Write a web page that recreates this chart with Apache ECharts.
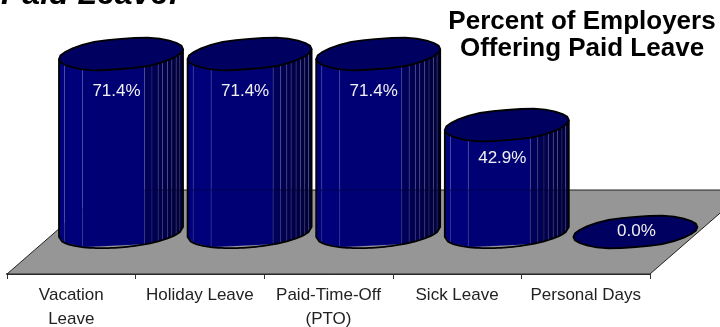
<!DOCTYPE html>
<html>
<head>
<meta charset="utf-8">
<style>html,body{margin:0;padding:0;background:#fff}#c{width:720px;height:327px}</style>
<script src="https://cdn.jsdelivr.net/npm/echarts@6/dist/echarts.min.js"></script>
</head>
<body>
<div id="c"></div>
<script>
const categories = ['Vacation\nLeave', 'Holiday Leave', 'Paid-Time-Off\n(PTO)', 'Sick Leave', 'Personal Days'];
const percentOffering = [71.4, 71.4, 71.4, 42.9, 0.0];
const chartTitle = 'Percent of Employers\nOffering Paid Leave';
const clippedHeading = 'Paid Leave:';

const chart = echarts.init(document.getElementById('c'), null, {renderer: 'canvas'});

// geometry of the pseudo-3D drawing
const DEPTH_X = 49.7, RX = 62, RY = 15.4, SHEAR = 0.08;
const FACET_X = [-1, -0.91, -0.62, 0.38, 0.5, 0.6, 0.67, 0.75, 0.82, 0.89, 0.95, 1];

function ellipsePoints(cx, cy) {
  const pts = [], n = 28;
  for (let i = 0; i < n; i++) {
    const t = i / n * Math.PI * 2;
    const x = RX * Math.cos(t);
    const wob = 1 + 0.025 * Math.cos(6 * t);
    const y = RY * wob * Math.sin(t) - SHEAR * x;
    pts.push([cx + x, cy + y]);
  }
  return pts;
}
function frontY(cx, cy, f) {
  const x = RX * f;
  return cy + RY * Math.sqrt(Math.max(0, 1 - f * f)) - SHEAR * x;
}
const STROKE = '#000';

function renderCyl(params, api) {
  const i = api.value(0), v = api.value(1);
  const top = api.coord([i, v]), base = api.coord([i, 0]);
  const cx = top[0] + DEPTH_X, cyT = top[1], cyB = base[1];
  const children = [];
  if (v > 0) {
    for (let k = 0; k < FACET_X.length - 1; k++) {
      const a = FACET_X[k], b = FACET_X[k + 1];
      const g = Math.round(a < 0.3 ? 125 - (a + 1) * 22 : 92 - (a - 0.3) * 55);
      const fill = 'rgb(0,0,' + g + ')';
      children.push({
        type: 'polygon',
        shape: {points: [
          [cx + RX * a, frontY(cx, cyT, a)], [cx + RX * b, frontY(cx, cyT, b)],
          [cx + RX * b, frontY(cx, cyB, b)], [cx + RX * a, frontY(cx, cyB, a)]
        ]},
        style: {fill: fill, stroke: k === 0 ? fill : 'rgba(120,120,190,0.3)', lineWidth: k === 0 ? 0 : 0.6}
      });
    }
    const outline = [];
    for (let f = -1; f <= 1.0001; f += 0.05) outline.push([cx + RX * f, frontY(cx, cyB, Math.min(f, 1))]);
    outline.unshift([cx - RX, frontY(cx, cyT, -1)]);
    outline.push([cx + RX, frontY(cx, cyT, 1)]);
    children.push({type: 'polyline', shape: {points: outline}, style: {fill: 'none', stroke: STROKE, lineWidth: 1.8}});
    // back edge of the floor, faintly visible through the body
    const by = 190;
    const x0 = Math.max(cx - RX, 145);
    children.push({type: 'line', shape: {x1: x0, y1: by, x2: cx + RX, y2: by}, style: {stroke: 'rgba(0,0,0,0.3)', lineWidth: 1}});
  }
  children.push({
    type: 'polygon',
    shape: {points: ellipsePoints(cx, cyT)},
    style: {fill: '#000060', stroke: STROKE, lineWidth: 1.8}
  });
  const dx = v > 0 ? -4.5 : 1;
  const dy = v > 60 ? 37.5 : (v > 0 ? 33 : -1);
  children.push({
    type: 'text',
    style: {
      text: v.toFixed(1) + '%', x: cx + dx, y: cyT + dy, align: 'center', verticalAlign: 'middle',
      fill: '#f0f0f0', font: '17px "Liberation Sans", Arial, sans-serif'
    }
  });
  return {type: 'group', children};
}

function renderFloor(params, api) {
  const w = api.size([1, 0])[0];
  const p0 = api.coord([0, -16.85]);
  const L = p0[0] - w / 2, R = L + 5 * w, B = p0[1], T = 190;
  const run = (B - T) * 1.15;
  return {
    type: 'group',
    children: [{
      type: 'polygon',
      shape: {points: [[L, B], [R, B], [R + run, T], [L + run, T]]},
      style: {fill: '#969696', stroke: '#222', lineWidth: 1}
    }]
  };
}

chart.setOption({
  animation: false,
  grid: {left: 7, right: 70, top: 7.6, bottom: 53, outerBoundsMode: 'none'},
  title: [{
    text: chartTitle, left: 577, top: 3, textAlign: 'center',
    textStyle: {fontFamily: '"Liberation Sans", Arial, sans-serif', fontSize: 26, fontWeight: 'bold', color: '#000', lineHeight: 27}
  }, {
    text: clippedHeading, left: -4, top: -26,
    textStyle: {fontFamily: '"Liberation Sans", Arial, sans-serif', fontSize: 32, fontWeight: 'bold', fontStyle: 'italic', color: '#000'}
  }],
  xAxis: {
    type: 'category', data: categories, boundaryGap: true,
    axisLine: {show: true, onZero: false, lineStyle: {color: '#333', width: 2}},
    axisTick: {show: true, length: 5, lineStyle: {color: '#333', width: 1}, alignWithLabel: false},
    axisLabel: {
      interval: 0, margin: 9, color: '#222', lineHeight: 24,
      fontFamily: '"Liberation Sans", Arial, sans-serif', fontSize: 17
    }
  },
  yAxis: {type: 'value', min: -16.85, max: 90, show: false},
  series: [{
    type: 'custom', z: 1, silent: true, clip: false,
    data: [[0, 0]], renderItem: renderFloor
  }, {
    type: 'custom', z: 2, silent: true, clip: false,
    data: percentOffering.map((v, i) => [i, v]), renderItem: renderCyl
  }]
});
</script>
</body>
</html>
